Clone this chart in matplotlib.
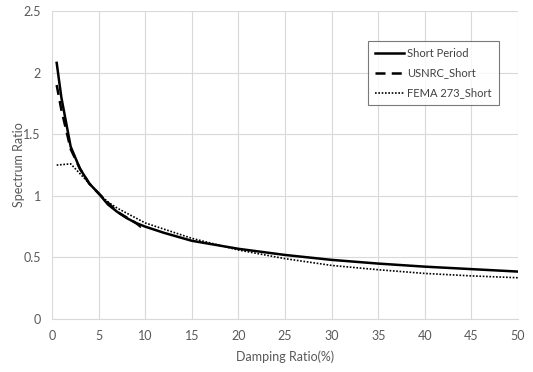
import matplotlib
matplotlib.use("Agg")
import matplotlib.pyplot as plt

# damping ratio (%) and spectrum ratios
short_x = [0.5, 1, 2, 3, 4, 5, 6, 7, 8, 9, 10, 12, 15, 20, 25, 30, 35, 40, 45, 50]
short_y = [2.08, 1.80, 1.40, 1.22, 1.10, 1.02, 0.93, 0.87, 0.82, 0.78, 0.75, 0.70,
           0.635, 0.57, 0.52, 0.48, 0.45, 0.425, 0.405, 0.385]

usnrc_x = [0.5, 1, 2, 3, 4, 5, 7, 9, 9.5, 10]
usnrc_y = [1.90, 1.70, 1.38, 1.22, 1.10, 1.02, 0.87, 0.78, 0.75, 0.76]

fema_x = [0.5, 2, 3, 4, 5, 6, 7, 10, 15, 20, 25, 30, 35, 40, 45, 50]
fema_y = [1.25, 1.26, 1.18, 1.10, 1.02, 0.95, 0.90, 0.78, 0.655, 0.56, 0.49,
          0.435, 0.40, 0.37, 0.35, 0.335]

xticks = list(range(0, 51, 5))
yticks = [0, 0.5, 1, 1.5, 2, 2.5]

plt.rcParams['font.family'] = ['Lato', 'DejaVu Sans']

fig = plt.figure(figsize=(5.33, 3.72), dpi=100)
ax = fig.add_axes([0.0976, 0.1425, 0.8744, 0.8275])

ax.plot(short_x, short_y, color='black', lw=1.8, ls='-', label='Short Period')
ax.plot(usnrc_x, usnrc_y, color='black', lw=1.8, ls=(0, (4, 2.5)), label='USNRC_Short')
ax.plot(fema_x, fema_y, color='black', lw=1.2, ls=(0, (1, 1)), label='FEMA 273_Short')

ax.set_xlim(0, 50)
ax.set_ylim(0, 2.5)
ax.set_xticks(xticks)
ax.set_yticks(yticks)
ax.set_yticklabels(['0', '0.5', '1', '1.5', '2', '2.5'])
ax.grid(True, color='#d9d9d9', lw=0.8)
ax.set_axisbelow(True)
for s in ['top', 'right', 'left']:
    ax.spines[s].set_visible(False)
ax.spines['bottom'].set_color('#d9d9d9')
ax.tick_params(length=0, colors='#595959', labelsize=9, pad=8)

ax.set_xlabel('Damping Ratio(%)', color='#595959', fontsize=9, labelpad=6)
ax.set_ylabel('Spectrum Ratio', color='#595959', fontsize=9)
ax.yaxis.set_label_coords(-0.058, 0.5)

leg = ax.legend(loc='upper left', bbox_to_anchor=(0.678, 0.903), borderaxespad=0,
                fontsize=8, frameon=True, fancybox=False, handlelength=2.6,
                labelspacing=0.8, borderpad=0.6, handletextpad=0.35)
leg.get_frame().set_edgecolor('#595959')
leg.get_frame().set_linewidth(0.8)
for t in leg.get_texts():
    t.set_color('#404040')

fig.savefig('out.png', dpi=100)
